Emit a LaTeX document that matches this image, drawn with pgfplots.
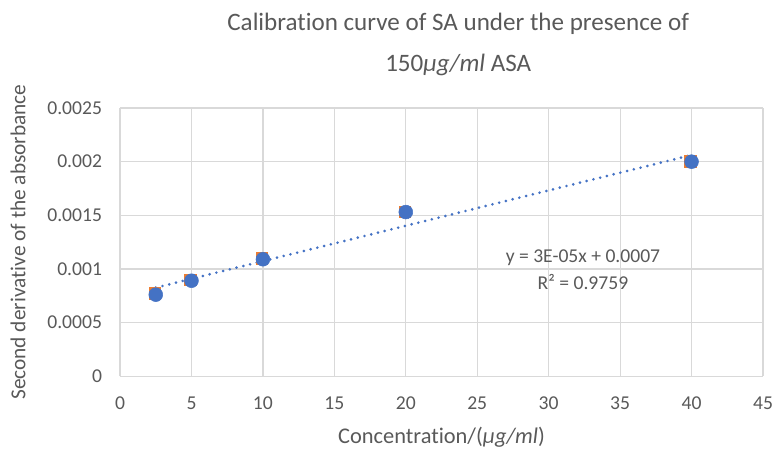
\documentclass[border=0pt]{standalone}
\usepackage{fontspec}
\setmainfont{Carlito}[Ligatures={NoCommon}]
\usepackage{pgfplots}
\usepackage{pgfplotstable}
\pgfplotsset{compat=1.18}
\definecolor{serblue}{HTML}{4472C4}
\definecolor{serorange}{HTML}{ED7D31}
\definecolor{gridgray}{HTML}{D9D9D9}
\definecolor{txtgray}{HTML}{595959}
\pgfplotstableread{
x y
2.5 0.00076
5 0.00089
10 0.00109
20 0.00153
40 0.00200
}\blue
\pgfplotstableread{
x y
2.42 0.000772
4.92 0.000900
9.92 0.001100
19.92 0.001535
39.92 0.002003
}\orange
\begin{document}
\begin{tikzpicture}
\begin{axis}[
  scale only axis,
  width=482pt, height=201pt,
  xmin=0, xmax=45, ymin=0, ymax=0.0025,
  xtick={0,5,...,45},
  ytick={0,0.0005,0.001,0.0015,0.002,0.0025},
  yticklabels={0,0.0005,0.001,0.0015,0.002,0.0025},
  grid=major,
  major grid style={gridgray, line width=0.9pt},
  axis line style={draw=none},
  tick style={draw=none},
  ticklabel style={font=\fontsize{14.7}{16}\selectfont, text=txtgray},
  /pgf/number format/assume math mode=true,
  xticklabel style={yshift=-12pt},
  yticklabel style={xshift=-10pt},
  scaled y ticks=false,
  clip=false,
  xlabel={Concentration/(\textit{μg/ml})},
  xlabel style={font=\fontsize{16.8}{18}\selectfont, text=txtgray, at={(axis description cs:0.5,0)}, anchor=center, yshift=-45.75pt},
  ylabel={Second derivative of the absorbance},
  ylabel style={font=\fontsize{16}{18}\selectfont, text=txtgray, at={(axis description cs:0,0.5)}, anchor=center, rotate=0, yshift=76.5pt},
  title={Calibration curve of SA under the presence of\\150\textit{μg/ml} ASA},
  title style={font=\fontsize{18.8}{30.75}\selectfont, text=txtgray, align=center, at={(axis description cs:0,1)}, xshift=253.5pt, yshift=42pt, anchor=center},
]
\addplot[only marks, mark=square*, mark size=4.3pt, color=serorange] table[x=x,y=y] {\orange};
\addplot[only marks, mark=*, mark size=5.2pt, color=serblue] table[x=x,y=y] {\blue};
\addplot[serblue, line width=2.2pt, line cap=round, dash pattern=on 0pt off 5.2pt] table[x=x, y={create col/linear regression={y=y}}] {\blue};
\node[font=\fontsize{14.7}{16}\selectfont, text=txtgray] at (axis cs:32.4,0.0011) {y = 3E-05x + 0.0007};
\node[font=\fontsize{14.7}{16}\selectfont, text=txtgray] at (axis cs:32.4,0.000877) {R² = 0.9759};
\coordinate (BL) at (rel axis cs:0,0);
\coordinate (TR) at (rel axis cs:1,1);
\end{axis}
\pgfresetboundingbox
\path[use as bounding box] (BL) ++(-90pt,-54.75pt) coordinate (P1) (TR) ++(9pt,81pt) coordinate (P2) (P1) rectangle (P2);
\end{tikzpicture}
\end{document}
